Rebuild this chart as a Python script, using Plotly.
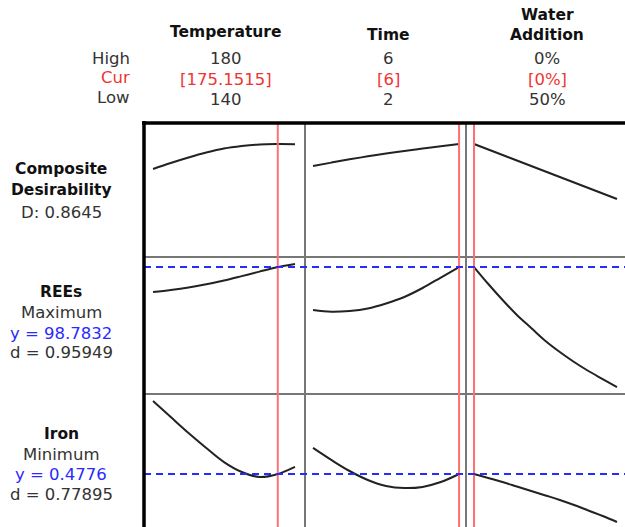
import plotly.graph_objects as go
from plotly.subplots import make_subplots

# factor settings
temperature = [140, 145, 150, 155, 160, 165, 170, 175, 180]
time_h = [2, 2.5, 3, 3.5, 4, 4.5, 5, 5.5, 6]
water = [0, 5, 10, 15, 20, 25, 30, 35, 40, 45, 50]

# composite desirability
desir_temp = [0.673, 0.719, 0.761, 0.799, 0.830, 0.849, 0.861, 0.864, 0.863]
desir_time = [0.696, 0.722, 0.747, 0.770, 0.791, 0.811, 0.830, 0.848, 0.8645]
desir_water = [0.8645, 0.822, 0.780, 0.738, 0.696, 0.654, 0.612, 0.570, 0.528, 0.486, 0.444]

# REEs
rees_temp = [90.70, 91.35, 92.16, 93.19, 94.42, 95.84, 97.30, 98.69, 99.75]
rees_time = [84.88, 84.30, 84.56, 85.37, 87.0, 89.1, 92.0, 95.39, 98.78]
rees_water = [98.78, 93.29, 88.12, 83.27, 79.07, 74.87, 71.31, 68.08, 65.17, 62.58, 60.0]

# Iron
iron_temp = [1.000, 0.885, 0.771, 0.664, 0.563, 0.492, 0.456, 0.476, 0.528]
iron_time = [0.664, 0.578, 0.499, 0.435, 0.392, 0.377, 0.385, 0.420, 0.4776]
iron_water = [0.4776, 0.449, 0.420, 0.388, 0.356, 0.324, 0.292, 0.256, 0.216, 0.177, 0.134]

high_lbl = ['180', '6', '0%']
cur_lbl = ['[175.1515]', '[6]', '[0%]']
low_lbl = ['140', '2', '50%']
cur_x = [175.1515, 6, 0]
rees_opt = 98.7832
iron_opt = 0.4776

W, H = 625, 527
def px(x):
    return x / W
def py(y):
    return 1 - y / H

fig = make_subplots(rows=3, cols=3, horizontal_spacing=0, vertical_spacing=0)

xs = [temperature, time_h, water]
rows = [[desir_temp, desir_time, desir_water],
        [rees_temp, rees_time, rees_water],
        [iron_temp, iron_time, iron_water]]
for r in range(3):
    for c in range(3):
        fig.add_trace(go.Scatter(x=xs[c], y=rows[r][c], mode='lines', line_shape='spline',
                                 line=dict(color='#222222', width=2), showlegend=False,
                                 hoverinfo='skip'), row=r + 1, col=c + 1)

xdom = [[px(144), px(305)], [px(305), px(466)], [px(466), 1]]
xrng = [[137.46, 182.82], [1.78, 6.19], [-2.8, 52.8]]
ydom = [[py(257), py(123)], [py(394), py(257)], [0, py(394)]]
yrng = [[0, 1.025], [57.74, 102.02], [0.0983, 1.050]]
for c in range(3):
    fig.update_xaxes(domain=xdom[c], range=xrng[c], col=c + 1)
for r in range(3):
    fig.update_yaxes(domain=ydom[r], range=yrng[r], row=r + 1)
fig.update_xaxes(showticklabels=False, ticks='', showgrid=False, zeroline=False, showline=False)
fig.update_yaxes(showticklabels=False, ticks='', showgrid=False, zeroline=False, showline=False)

shapes = []
grey = dict(color='#777777', width=2)
for xx in [305, 466]:
    shapes.append(dict(type='line', xref='paper', yref='paper', x0=px(xx), x1=px(xx),
                       y0=0, y1=py(123), line=grey))
for yy in [257, 394]:
    shapes.append(dict(type='line', xref='paper', yref='paper', x0=px(144), x1=1,
                       y0=py(yy), y1=py(yy), line=grey))
# red current-setting lines
for c, xa in enumerate(['x', 'x2', 'x3']):
    shapes.append(dict(type='line', xref=xa, yref='paper', x0=cur_x[c], x1=cur_x[c],
                       y0=0, y1=py(123), line=dict(color='#ff7070', width=2)))
# blue optimum lines
for ya, val in [('y4', rees_opt), ('y7', iron_opt)]:
    shapes.append(dict(type='line', xref='paper', yref=ya, x0=px(144), x1=1, y0=val, y1=val,
                       line=dict(color='#2a2aff', width=2, dash='7px,5px')))
# thick frame
shapes.append(dict(type='line', xref='paper', yref='paper', x0=px(142), x1=1,
                   y0=py(123), y1=py(123), line=dict(color='black', width=3.5)))
shapes.append(dict(type='line', xref='paper', yref='paper', x0=px(144), x1=px(144),
                   y0=0, y1=py(121), line=dict(color='black', width=3.5)))

ann = []
def txt(x, y, s, size=16.5, color='#333333', bold=False, anchor='center'):
    if bold:
        s = '<b>' + s + '</b>'
        size = 15.5
        color = '#111111'
    ann.append(dict(x=px(x), y=py(y), xref='paper', yref='paper', text=s, showarrow=False,
                    xanchor=anchor, yanchor='middle',
                    font=dict(family='DejaVu Sans', size=size, color=color)))

# header
txt(226, 32, 'Temperature', bold=True)
txt(388, 35, 'Time', bold=True)
txt(547, 15, 'Water', bold=True)
txt(547, 35, 'Addition', bold=True)
txt(132, 58, 'High', anchor='right')
txt(132, 78, 'Cur', color='#ee3535', anchor='right')
txt(132, 98, 'Low', anchor='right')
for cx, h, cu, lo in zip([226, 388, 547], high_lbl, cur_lbl, low_lbl):
    txt(cx, 59, h)
    txt(cx, 79, cu, color='#ee3535')
    txt(cx, 99, lo)

# row labels
txt(61, 169, 'Composite', bold=True)
txt(61, 190, 'Desirability', bold=True)
txt(61, 212, 'D: 0.8645')
txt(61, 292, 'REEs', bold=True)
txt(61, 312, 'Maximum')
txt(61, 333, 'y = 98.7832', color='#2a2aff')
txt(61, 352, 'd = 0.95949')
txt(61, 434, 'Iron', bold=True)
txt(61, 454, 'Minimum')
txt(61, 474, 'y = 0.4776', color='#2a2aff')
txt(61, 494, 'd = 0.77895')

fig.update_layout(width=W, height=H, margin=dict(l=0, r=0, t=0, b=0),
                  paper_bgcolor='white', plot_bgcolor='white',
                  shapes=shapes, annotations=ann)

# drop the default body margin so the figure sits at the window corner
fig.write_html("out.html", config={'displayModeBar': False},
               post_script="document.body.style.margin='0';")
